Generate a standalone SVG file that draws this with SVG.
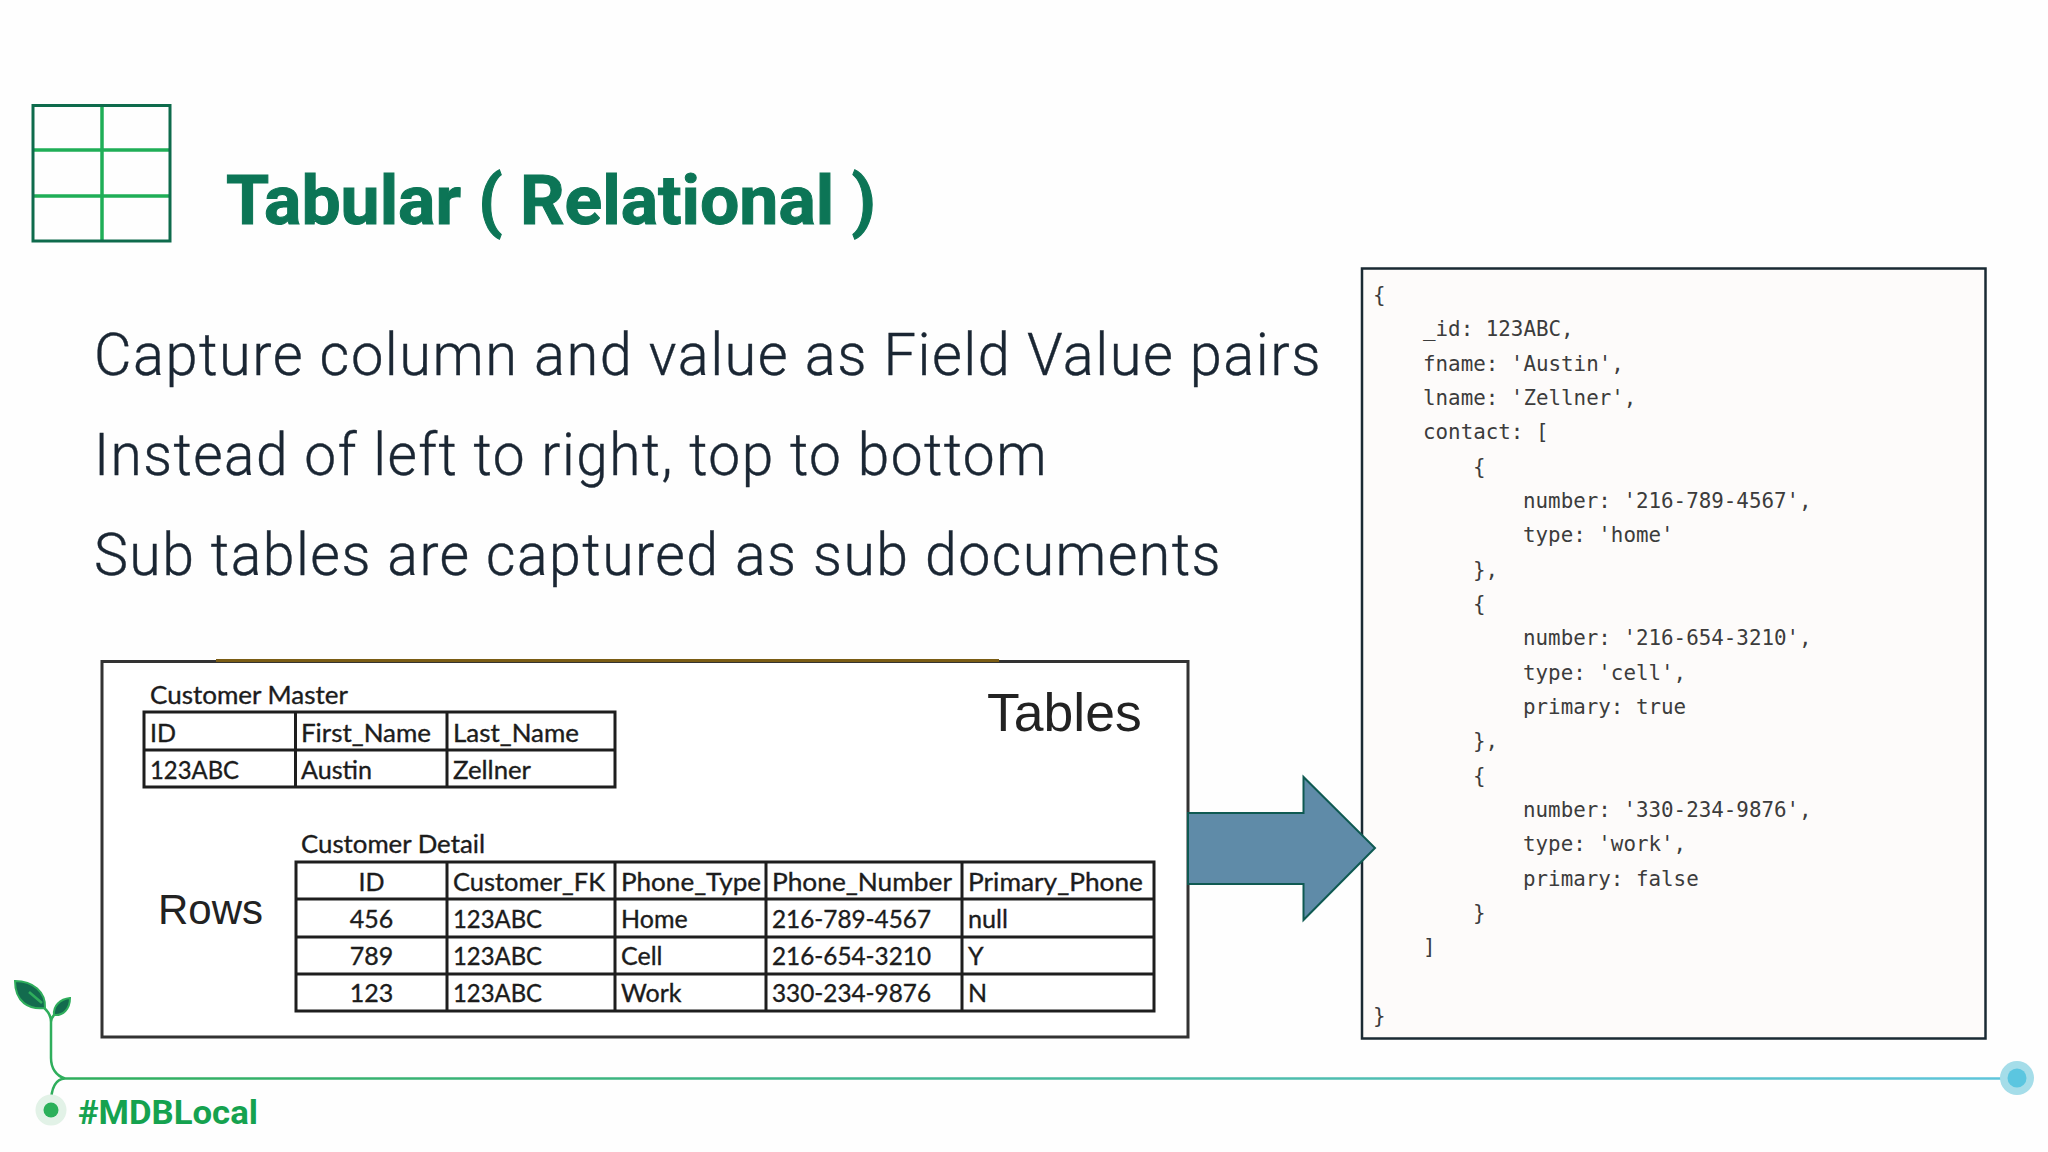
<svg xmlns="http://www.w3.org/2000/svg" width="2048" height="1152" viewBox="0 0 2048 1152">
<style>
.body{font-family:"Roboto","Liberation Sans",sans-serif;font-size:59px;font-weight:300;fill:#1a2633;stroke:#1a2633;stroke-width:.4;letter-spacing:1.5px}
.cell{font-family:"Lato","Liberation Sans",sans-serif;font-size:25px;fill:#1c1c1c;stroke:#1c1c1c;stroke-width:.35}
.mid{text-anchor:middle}
.big{font-family:"Liberation Sans",Arial,sans-serif;fill:#222}
.code{font-family:"DejaVu Sans Mono","Liberation Mono",monospace;font-size:20.85px;fill:#3c3c3c}
.grid{fill:none;stroke:#1e1e1e;stroke-width:3}
</style>
<defs>
<linearGradient id="tl" gradientUnits="userSpaceOnUse" x1="65" y1="1078" x2="2017" y2="1078"><stop offset="0" stop-color="#2fae5c"/><stop offset="1" stop-color="#5ec5dc"/></linearGradient>
</defs>
<rect width="2048" height="1152" fill="#fefefe"/>
<g id="icon">
<path d="M102 105V242M32 150H170M32 196H170" fill="none" stroke="#1fae57" stroke-width="3.5"/>
<rect x="33" y="105.500" width="137" height="135.500" fill="none" stroke="#0e6b4c" stroke-width="3"/>
</g>
<g id="title"><text x="226" y="224" font-family="Roboto,sans-serif" font-weight="700" font-size="68" fill="#0c7556" stroke="#0c7556" stroke-width="1" textLength="650" lengthAdjust="spacingAndGlyphs">Tabular ( Relational )</text></g>
<g id="bullets">
<text class="body" x="94" y="375" textLength="1228" lengthAdjust="spacingAndGlyphs">Capture column and value as Field Value pairs</text>
<text class="body" x="94" y="475" textLength="954" lengthAdjust="spacingAndGlyphs">Instead of left to right, top to bottom</text>
<text class="body" x="94" y="575" textLength="1128" lengthAdjust="spacingAndGlyphs">Sub tables are captured as sub documents</text>
</g>
<g id="tables">
<rect x="102" y="661.500" width="1086" height="375.500" fill="#fff" stroke="#333" stroke-width="3"/>
<path d="M216 660.500H999" stroke="#7a5c14" stroke-width="3" fill="none"/>
<text class="big" x="987" y="731" font-size="53.500">Tables</text>
<text class="big" x="158" y="924" font-size="42">Rows</text>
<g id="customer-master">
<text class="cell" x="150" y="704" textLength="198" lengthAdjust="spacingAndGlyphs">Customer Master</text>
<path class="grid" d="M144 712H615V787H144ZM144 750H615M295.500 712V787M447 712V787"/>
<text class="cell" x="150" y="742">ID</text>
<text class="cell" x="301" y="742" textLength="130" lengthAdjust="spacingAndGlyphs">First_Name</text>
<text class="cell" x="453" y="742" textLength="126" lengthAdjust="spacingAndGlyphs">Last_Name</text>
<text class="cell" x="150" y="779" textLength="89" lengthAdjust="spacingAndGlyphs">123ABC</text>
<text class="cell" x="301" y="779" textLength="71" lengthAdjust="spacingAndGlyphs">Austin</text>
<text class="cell" x="453" y="779" textLength="78" lengthAdjust="spacingAndGlyphs">Zellner</text>
</g>
<g id="customer-detail">
<text class="cell" x="301" y="853" textLength="184" lengthAdjust="spacingAndGlyphs">Customer Detail</text>
<path class="grid" d="M296 862H1154V1011H296ZM296 899H1154M296 937H1154M296 974H1154M447 862V1011M615 862V1011M766 862V1011M962 862V1011"/>
<text class="cell mid" x="371.500" y="891">ID</text>
<text class="cell" x="453" y="891" textLength="152" lengthAdjust="spacingAndGlyphs">Customer_FK</text>
<text class="cell" x="621" y="891" textLength="140" lengthAdjust="spacingAndGlyphs">Phone_Type</text>
<text class="cell" x="772" y="891" textLength="180" lengthAdjust="spacingAndGlyphs">Phone_Number</text>
<text class="cell" x="968" y="891" textLength="175" lengthAdjust="spacingAndGlyphs">Primary_Phone</text>
<text class="cell mid" x="371.500" y="928">456</text>
<text class="cell" x="453" y="928" textLength="89" lengthAdjust="spacingAndGlyphs">123ABC</text>
<text class="cell" x="621" y="928">Home</text>
<text class="cell" x="772" y="928" textLength="159" lengthAdjust="spacingAndGlyphs">216-789-4567</text>
<text class="cell" x="968" y="928" textLength="40" lengthAdjust="spacingAndGlyphs">null</text>
<text class="cell mid" x="371.500" y="965">789</text>
<text class="cell" x="453" y="965" textLength="89" lengthAdjust="spacingAndGlyphs">123ABC</text>
<text class="cell" x="621" y="965">Cell</text>
<text class="cell" x="772" y="965" textLength="159" lengthAdjust="spacingAndGlyphs">216-654-3210</text>
<text class="cell" x="968" y="965">Y</text>
<text class="cell mid" x="371.500" y="1002">123</text>
<text class="cell" x="453" y="1002" textLength="89" lengthAdjust="spacingAndGlyphs">123ABC</text>
<text class="cell" x="621" y="1002">Work</text>
<text class="cell" x="772" y="1002" textLength="159" lengthAdjust="spacingAndGlyphs">330-234-9876</text>
<text class="cell" x="968" y="1002">N</text>
</g>
</g>
<g id="document">
<rect x="1362" y="268.500" width="623.500" height="770" fill="#fdfbfa" stroke="#1a2a33" stroke-width="2.500"/>
<text class="code" x="1373" y="302">{</text>
<text class="code" x="1423" y="336">_id: 123ABC,</text>
<text class="code" x="1423" y="370.500">fname: 'Austin',</text>
<text class="code" x="1423" y="405">lname: 'Zellner',</text>
<text class="code" x="1423" y="439">contact: [</text>
<text class="code" x="1473" y="473.500">{</text>
<text class="code" x="1523" y="508">number: '216-789-4567',</text>
<text class="code" x="1523" y="542">type: 'home'</text>
<text class="code" x="1473" y="576.500">},</text>
<text class="code" x="1473" y="611">{</text>
<text class="code" x="1523" y="645">number: '216-654-3210',</text>
<text class="code" x="1523" y="679.500">type: 'cell',</text>
<text class="code" x="1523" y="714">primary: true</text>
<text class="code" x="1473" y="748">},</text>
<text class="code" x="1473" y="782.500">{</text>
<text class="code" x="1523" y="817">number: '330-234-9876',</text>
<text class="code" x="1523" y="851">type: 'work',</text>
<text class="code" x="1523" y="885.500">primary: false</text>
<text class="code" x="1473" y="920">}</text>
<text class="code" x="1423" y="954">]</text>
<text class="code" x="1373" y="1023">}</text>
</g>
<g id="connectors">
<path d="M1188 813H1303.500V777L1375 848L1303.500 920V884H1188Z" fill="#5f8ba8" stroke="#0f5a52" stroke-width="2"/>
</g>
<g id="footer">
<path d="M65 1078.500H2017" stroke="url(#tl)" stroke-width="2.500" fill="none"/>
<path d="M65 1078.500C56 1076 51 1068 51 1058V1022C51 1016 48 1011 43 1007M51 1022C51 1019 53 1016 55 1014M65 1078.500C56 1079 51 1088 51 1104" stroke="#2fae5c" stroke-width="2.500" fill="none"/>
<path d="M15 981C33 981 46 992 45 1008C29 1010 15 1002 15 981Z" fill="#136b4e" stroke="#2fae5c" stroke-width="2"/>
<path d="M29 992L42 1003" stroke="#2fae5c" stroke-width="2.500" fill="none"/>
<path d="M70 998C70 1009 63 1016 54 1015C53 1006 60 999 70 998Z" fill="#136b4e" stroke="#2fae5c" stroke-width="2"/>
<circle cx="51" cy="1110" r="15.500" fill="#e2f2e7"/>
<circle cx="51" cy="1110" r="7.500" fill="#2bb05a"/>
<circle cx="2017" cy="1078" r="17" fill="#a5dde9"/>
<circle cx="2017" cy="1078" r="9.500" fill="#5bc6e0"/>
<text x="78" y="1124" font-family="Roboto,sans-serif" font-weight="700" font-size="33" fill="#15a24f" textLength="180" lengthAdjust="spacingAndGlyphs">#MDBLocal</text>
</g>
</svg>
